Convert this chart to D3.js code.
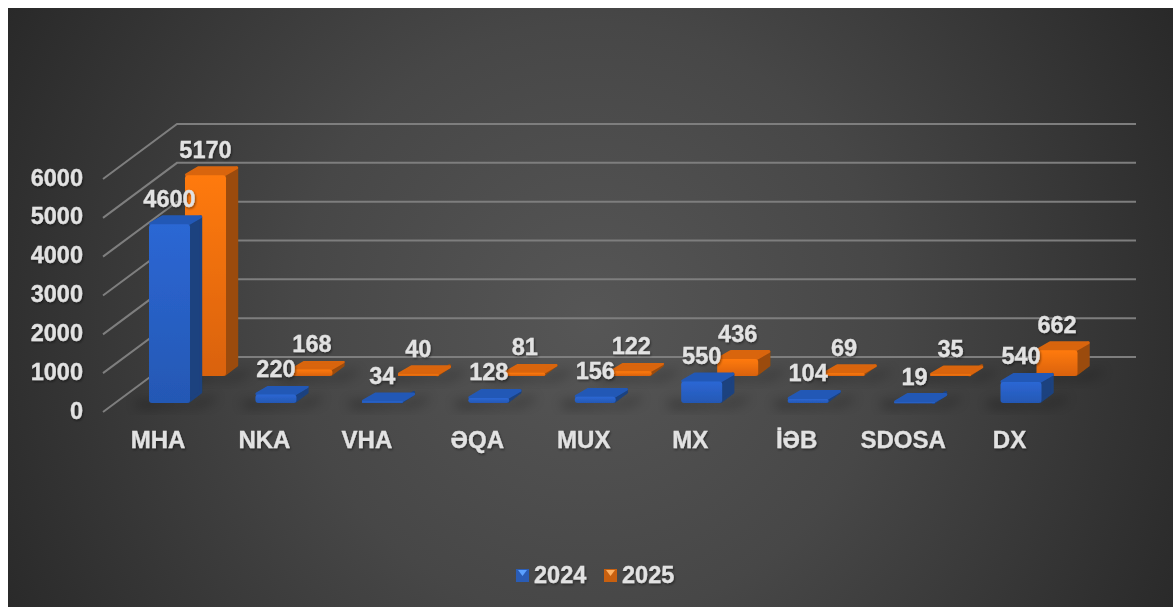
<!DOCTYPE html>
<html><head><meta charset="utf-8">
<script src="https://cdn.jsdelivr.net/npm/d3@7"></script>
<style>
html,body{margin:0;padding:0;background:#fff;overflow:hidden}
svg{display:block}
text{font-family:"Liberation Sans",Arial,sans-serif;font-weight:700;fill:#e2e2e2;stroke:#e2e2e2;stroke-width:.3px}
</style></head><body>
<svg id="c" width="1176" height="607"></svg>
<script>
const categories=["MHA","NKA","VHA","ƏQA","MUX","MX","İƏB","SDOSA","DX"];
const values2024=[4600,220,34,128,156,550,104,19,540];
const values2025=[5170,168,40,81,122,436,69,35,662];
const seriesNames=["2024","2025"];
const yTicks=[0,1000,2000,3000,4000,5000,6000];

const svg=d3.select("#c");
const defs=svg.append("defs");
const bg=defs.append("radialGradient").attr("id","bg").attr("gradientUnits","userSpaceOnUse")
  .attr("cx",590).attr("cy",320).attr("r",660);
bg.append("stop").attr("offset",0).attr("stop-color","#565656");
bg.append("stop").attr("offset",.45).attr("stop-color","#474747");
bg.append("stop").attr("offset",1).attr("stop-color","#292929");
const blur=defs.append("filter").attr("id","blur").attr("x","-40%").attr("y","-80%").attr("width","180%").attr("height","260%");
blur.append("feGaussianBlur").attr("stdDeviation",6);
const soft=defs.append("filter").attr("id","soft").attr("x","-5%").attr("y","-5%").attr("width","110%").attr("height","110%");
soft.append("feGaussianBlur").attr("stdDeviation",.45);
const ts=defs.append("filter").attr("id","ts").attr("x","-20%").attr("y","-20%").attr("width","140%").attr("height","140%");
ts.append("feGaussianBlur").attr("in","SourceGraphic").attr("stdDeviation",.35).attr("result","s");
ts.append("feDropShadow").attr("in","s").attr("dx",1).attr("dy",1.5).attr("stdDeviation",1.2).attr("flood-color","#000").attr("flood-opacity",.45);

const palette=[
 {f1:"#2c67d4",f2:"#2458b4",top:"#2459b6",side:"#1b427f",sw:"#2a5cb5",hi:"#5aa0ff"},
 {f1:"#ff7a10",f2:"#d9620c",top:"#d9650b",side:"#9b4c0b",sw:"#c9600f",hi:"#ffb060"}
];
palette.forEach((p,i)=>{
 const g=defs.append("linearGradient").attr("id","f"+i).attr("x1",0).attr("y1",0).attr("x2",0).attr("y2",1);
 g.append("stop").attr("offset",0).attr("stop-color",p.f1);
 g.append("stop").attr("offset",1).attr("stop-color",p.f2);
});

svg.append("rect").attr("x",8).attr("y",8).attr("width",1165).attr("height",599).attr("fill","url(#bg)");

// scales
const x=d3.scalePoint().domain(categories).range([158.5,1010]);
const y=d3.scaleLinear().domain([0,6000]).range([412,179]);
const depthX=d3.scaleLinear().domain([0,1]).range([0,74]);
const depthY=d3.scaleLinear().domain([0,1]).range([0,-55]);
const barW=41, barD=.165;
const seriesDepth=d3.scaleOrdinal().domain(seriesNames).range([.165,.655]);
const seriesOff=d3.scaleOrdinal().domain(seriesNames).range([-9.5,26.5]);
const backRight=1136;

// grid
const grid=svg.append("g").attr("stroke","#7e7e7e").attr("stroke-width",2).attr("fill","none").attr("filter","url(#soft)");
grid.selectAll("path").data(yTicks).join("path")
 .attr("d",v=>{
   const yy=y(v);
   return d3.line()([[103,yy],[103+depthX(1),yy+depthY(1)],[backRight,yy+depthY(1)]]);
 });

// bars, back series first
const series=[values2024,values2025];
const labels=[];
[1,0].forEach(s=>{
  const name=seriesNames[s], p=palette[s];
  const g=svg.append("g");
  const d0=seriesDepth(name);
  const oy=depthY(d0);
  const dx=depthX(barD), dy=depthY(barD);
  series[s].forEach((v,i)=>{
    const l=x(categories[i])+seriesOff(name);
    const r=l+barW;
    const b=y(0)+oy;
    const t=y(v)+oy;
    g.append("path").attr("filter","url(#blur)").attr("fill","#000").attr("opacity",.5)
      .attr("d",d3.line()([[l-14,b-1],[r+2,b+1],[r+dx+14,b+dy+3],[r+dx+12,b-3],[r+8,b+3],[l-10,b+4]]));
    const mark=g.append("g").attr("filter","url(#soft)");
    const ins=1.5;
    mark.append("path").attr("fill",p.side).attr("stroke",p.side).attr("stroke-width",3).attr("stroke-linejoin","round")
      .attr("d",d3.line()([[r-ins,t+ins-1],[r+dx-ins,t+dy+ins],[r+dx-ins,b+dy-ins],[r-ins,b-ins]])+"Z");
    mark.append("path").attr("fill",p.top).attr("stroke",p.top).attr("stroke-width",3).attr("stroke-linejoin","round")
      .attr("d",d3.line()([[l+ins,t-ins+1],[l+dx+ins,t+dy+ins],[r+dx-ins,t+dy+ins],[r-ins,t-ins+1]])+"Z");
    mark.append("rect").attr("x",l).attr("y",t).attr("width",barW).attr("height",Math.max(b-t,1))
      .attr("rx",Math.min(3,Math.max(.6,(b-t)/2)))
      .attr("fill","url(#f"+s+")");
    labels.push({v,cx:l+barW/2,y:t-17.5});
  });
});

// data labels
svg.append("g").selectAll("text").data(labels).join("text")
 .attr("x",d=>d.cx).attr("y",d=>d.y).attr("text-anchor","middle").attr("font-size",23.5)
 .attr("filter","url(#ts)").text(d=>d.v);

// axes
const ya=svg.append("g").attr("transform","translate(86,-1)")
 .call(d3.axisLeft(y).tickValues(yTicks).tickSize(0).tickPadding(3).tickFormat(d3.format("d")));
ya.select(".domain").remove();
ya.attr("font-family",null).attr("font-size",null);
ya.selectAll("text").attr("font-size",23.5).attr("dy","0.3em").attr("filter","url(#ts)");
const labelNudge=[-1,-1,-5,-1,-1,-1,-1,-1,-1];
const xa=svg.append("g").attr("transform","translate(0,425)")
 .call(d3.axisBottom(x).tickSize(0).tickPadding(0));
xa.select(".domain").remove();
xa.attr("font-family",null).attr("font-size",null);
xa.selectAll("text").attr("font-size",24).attr("dy","0.95em").attr("dx",(d,i)=>labelNudge[i]).attr("filter","url(#ts)");

// legend
const legX=d3.scaleOrdinal().domain(seriesNames).range([516,604]);
const leg=svg.append("g").selectAll("g").data(seriesNames).join("g")
 .attr("transform",d=>`translate(${legX(d)},569)`);
leg.append("rect").attr("width",13).attr("height",13).attr("fill",(d,i)=>palette[i].sw);
leg.append("path").attr("d",d3.line()([[2,1],[11,1],[6.5,7]])+"Z").attr("fill",(d,i)=>palette[i].hi);
leg.append("text").attr("x",18).attr("y",14).attr("font-size",23.5).attr("filter","url(#ts)").text(d=>d);
</script>
</body></html>
